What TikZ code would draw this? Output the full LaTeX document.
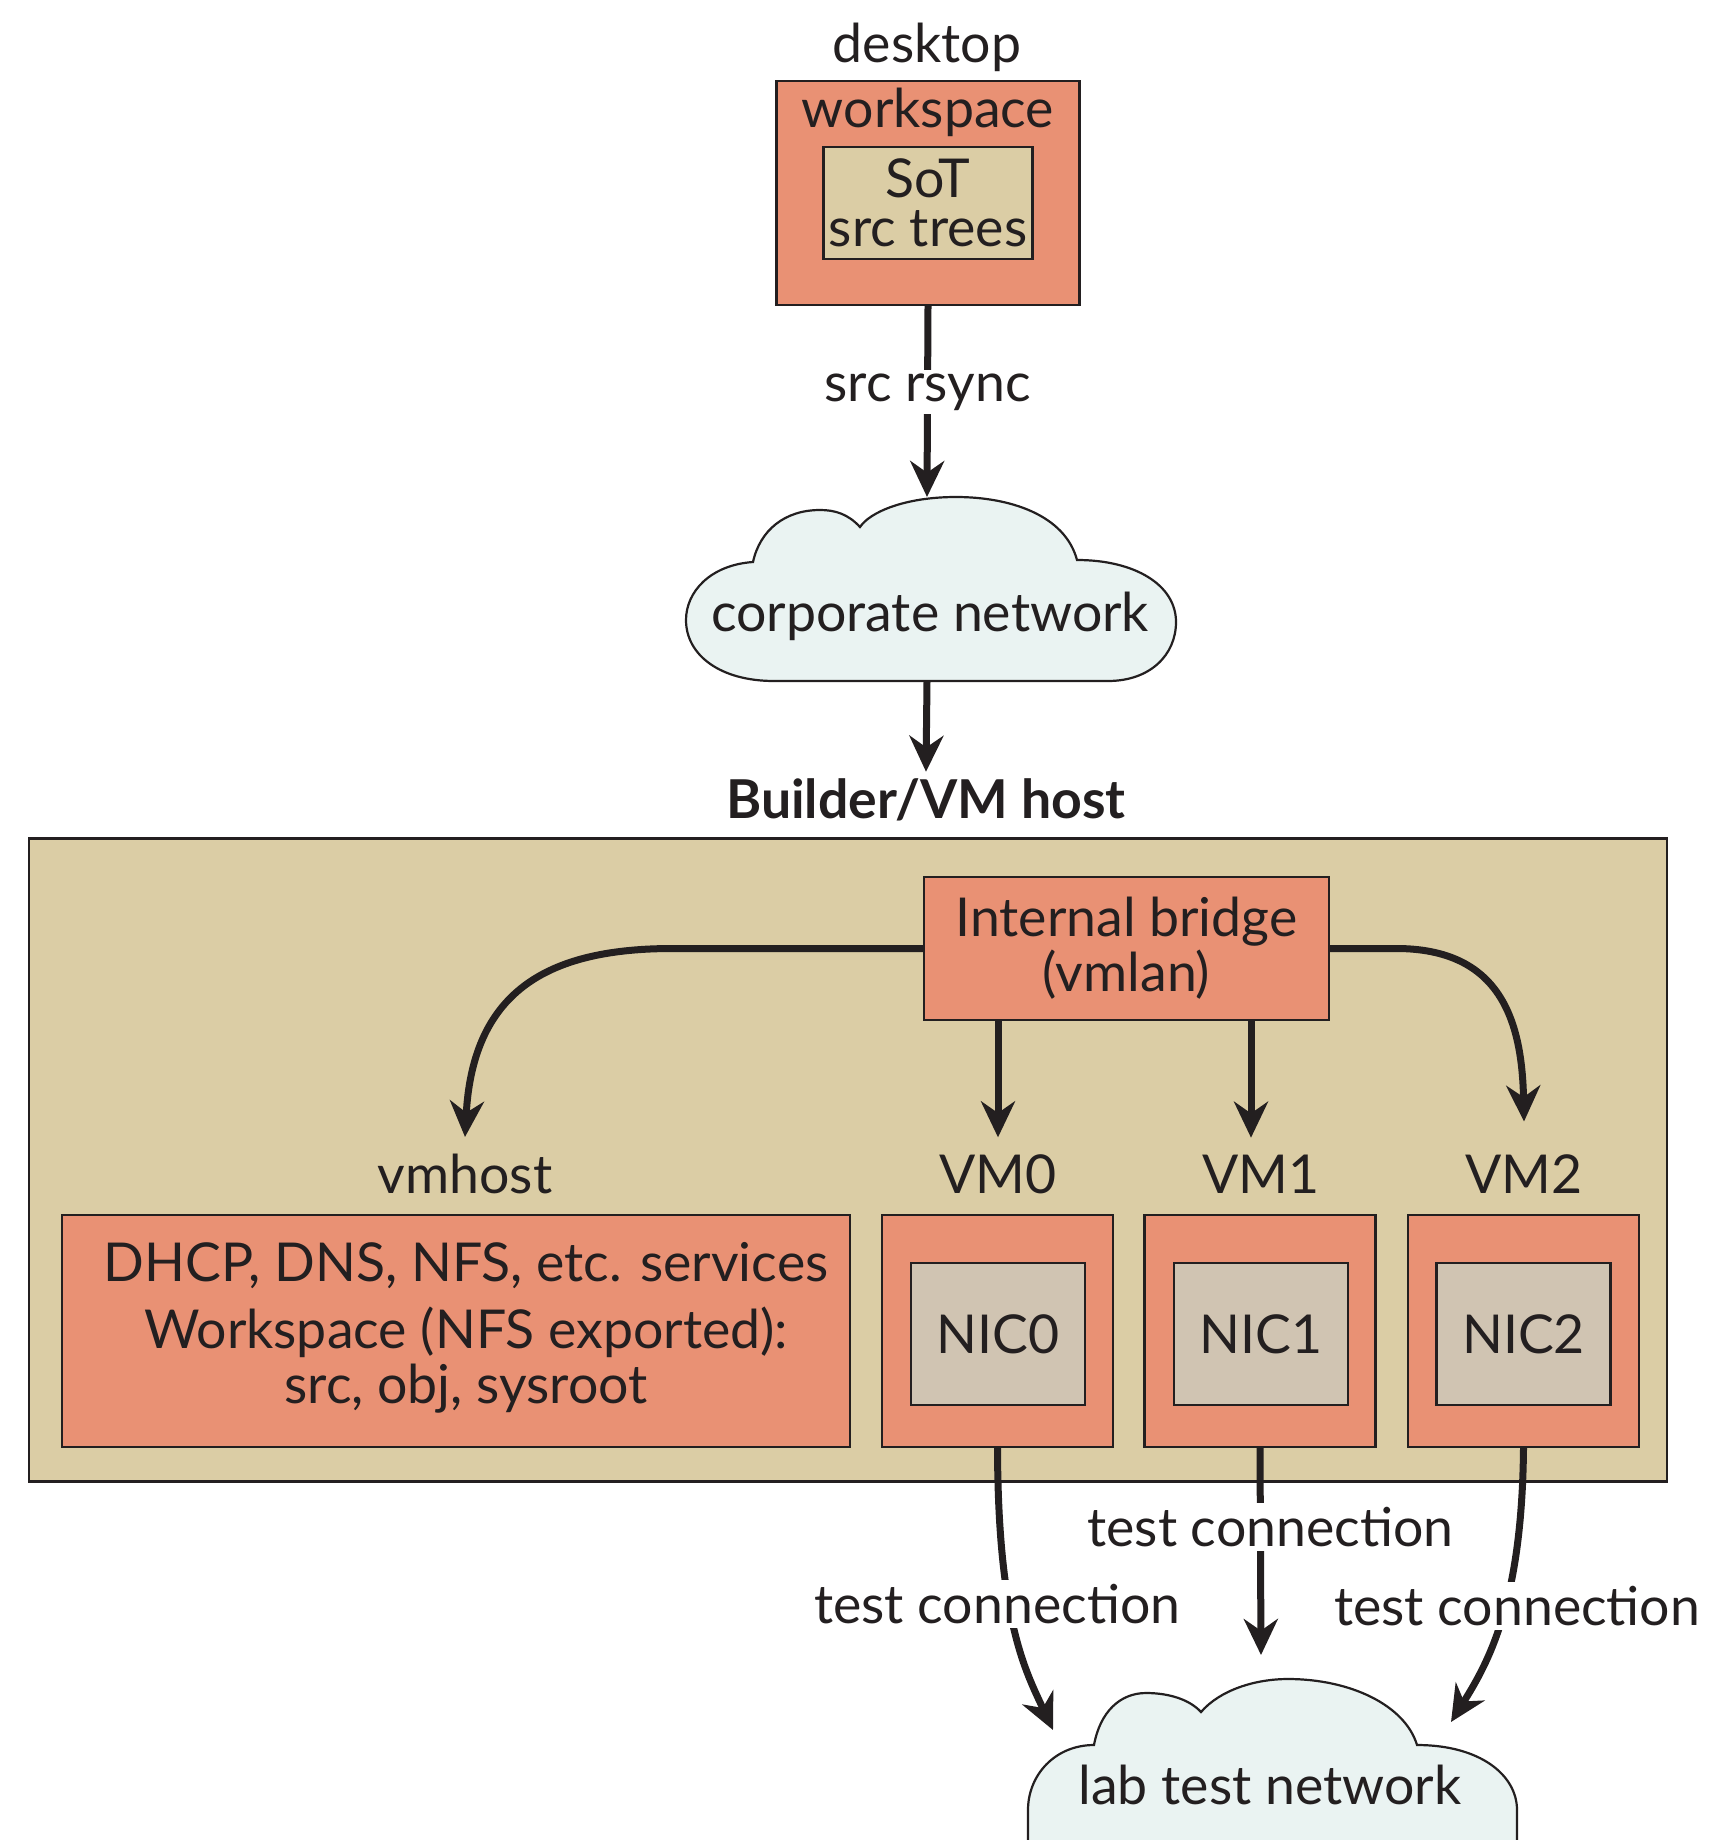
\documentclass[tikz,border=0pt]{standalone}
\usepackage{fontspec}
\setmainfont{Lato}
\usetikzlibrary{arrows.meta}
\definecolor{salmon}{RGB}{233,145,116}
\definecolor{tan}{RGB}{219,205,165}
\definecolor{niccol}{RGB}{208,196,178}
\definecolor{cloudcol}{RGB}{234,243,242}
\definecolor{ink}{RGB}{35,31,32}
\tikzstyle{outerbox} = [rectangle, draw=ink, line width=1.1pt, fill=salmon, inner sep=0pt]
\tikzstyle{innerbox} = [rectangle, draw=ink, line width=1.1pt, fill=tan, align=center, inner sep=0pt]
\tikzstyle{vmbox} = [outerbox, minimum width=115.5pt, minimum height=116pt]
\tikzstyle{nicbox} = [rectangle, draw=ink, line width=1.1pt, fill=niccol, minimum width=87pt, minimum height=71pt]
\tikzstyle{cloudline} = [draw=ink, line width=1.1pt, fill=cloudcol]
\tikzstyle{arrow} = [line width=3.5pt, draw=ink, -{Stealth[length=18pt,width=17pt]}]
\tikzstyle{tag} = [fill=white, inner sep=2pt]

\begin{document}
\begin{tikzpicture}[x=0.5pt, y=-0.5pt, font=\fontsize{26.8}{27.5}\selectfont, text=ink]
\useasboundingbox (0,0) rectangle (1709,1840);
\clip (0,0) rectangle (1709,1840);

% desktop
\node (desk) at (927,47) {desktop};
\node (ws) [outerbox, minimum width=151.5pt, minimum height=112pt] at (928,193) {};
\node (wslbl) at (928,112) {workspace};
\node (sot) [innerbox, minimum width=104.5pt, minimum height=56pt] at (928,203) {SoT\\[-3pt]src trees};

% corporate network
\path[cloudline] (774,681) -- (1108,681)
  .. controls (1150,681) and (1176,655) .. (1176,622)
  .. controls (1176,585) and (1135,560) .. (1077,560)
  .. controls (1065,515) and (1010,497) .. (956,497)
  .. controls (905,497) and (870,512) .. (860,527)
  .. controls (848,514) and (835,510) .. (820,510)
  .. controls (785,510) and (760,530) .. (753,562)
  .. controls (710,565) and (686,592) .. (686,620)
  .. controls (686,655) and (720,681) .. (774,681) -- cycle;
\node (corp) at (930,616) {corporate network};
\coordinate (corptop) at (927,497);
\coordinate (corpbot) at (927,681);
\draw [arrow] (ws.south) -- node[tag, pos=0.45] (rsync) {src rsync} (corptop);

% builder / VM host
\node (builder) at (926,800) {\bfseries Builder/VM host};
\draw [arrow] (corpbot) -- (builder.north);
\node (host) [rectangle, draw=ink, line width=1.1pt, fill=tan, minimum width=819pt, minimum height=321.5pt] at (848,1160) {};
\node (bridge) [outerbox, align=center, minimum width=202.5pt, minimum height=71.5pt] at (1126.5,948.5) {Internal bridge\\(vmlan)};

\node (vmhostlbl) at (465,1174) {vmhost};
\node (vm0lbl) at (998,1174) {VM0};
\node (vm1lbl) at (1261,1174) {VM1};
\node (vm2lbl) at (1524,1174) {VM2};

\node (vmhost) [outerbox, minimum width=394pt, minimum height=116pt] at (456,1331) {};
\node (svc) [align=center] at (466,1328) {DHCP, DNS, NFS, etc. services\\[6pt]Workspace (NFS exported):\\src, obj, sysroot};
\node (vm0) [vmbox] at (997.5,1331) {};
\node (vm1) [vmbox] at (1260,1331) {};
\node (vm2) [vmbox] at (1523.5,1331) {};
\node (nic0) [nicbox] at (998,1334) {NIC0};
\node (nic1) [nicbox] at (1261,1334) {NIC1};
\node (nic2) [nicbox] at (1523.5,1334) {NIC2};

\draw [arrow] (bridge.west) -- ++(-250,0) .. controls +(-120,0) and +(8,-150) .. ([yshift=5pt]vmhostlbl.north);
\draw [arrow] (bridge.south -| vm0lbl) -- ([yshift=5pt]vm0lbl.north);
\draw [arrow] ([xshift=-5pt]bridge.south -| vm1lbl) -- ([xshift=-5pt,yshift=5pt]vm1lbl.north);
\draw [arrow] (bridge.east) -- ++(66,0) .. controls +(105,0) and +(-2,-100) .. ([yshift=13pt]vm2lbl.north);

% lab test network
\path[cloudline] (1094,1745)
  .. controls (1100,1712) and (1120,1693) .. (1146,1693)
  .. controls (1170,1693) and (1190,1700) .. (1201,1712)
  .. controls (1220,1690) and (1255,1679) .. (1288,1679)
  .. controls (1350,1679) and (1405,1705) .. (1417,1745)
  .. controls (1480,1745) and (1517,1775) .. (1517,1810)
  -- (1517,1900) -- (1028,1900) -- (1028,1810)
  .. controls (1028,1775) and (1055,1745) .. (1094,1745) -- cycle;
\node (lab) at (1270,1785) {lab test network};
\coordinate (labL) at (1053,1730);
\coordinate (labM) at (1261,1655);
\coordinate (labR) at (1451,1722);

\draw [arrow] (vm0.south) .. controls (998,1620) and (1025,1670) .. node[tag, pos=0.4, xshift=-6pt] (t0) {test connection} (labL);
\draw [arrow] (vm1.south) -- node[tag, pos=0.38, xshift=5pt] (t1) {test connection} (labM);
\draw [arrow] (vm2.south) .. controls (1522,1600) and (1490,1660) .. node[tag, pos=0.45, xshift=6pt] (t2) {test connection} (labR);
\end{tikzpicture}
\end{document}
